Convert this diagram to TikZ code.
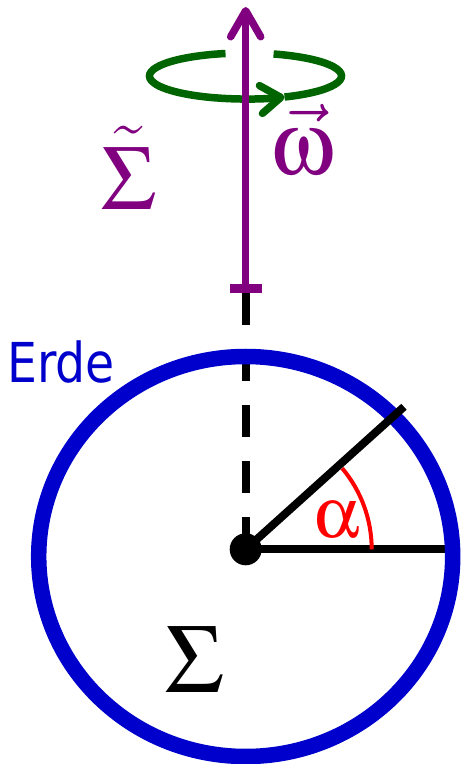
\RequirePackage{fix-cm}
\documentclass[tikz,border=0pt]{standalone}
\usepackage{amsmath}
\usepackage[Symbol]{upgreek}
\usepackage{fontspec}
\usepackage{tikz}
\usetikzlibrary{arrows.meta, calc}

\newfontfamily\erdefont[FakeStretch=0.86]{DejaVu Sans}
\definecolor{ringblue}{RGB}{0,0,204}
\definecolor{axispurple}{RGB}{128,0,128}
\definecolor{spingreen}{RGB}{0,100,0}

\begin{document}
\begin{tikzpicture}[x=1pt, y=1pt]
  \useasboundingbox (0,0) rectangle (461,764);

  % Points: centre of the earth, ends of the rotation axis
  \coordinate (O) at (245.7, 214.7);
  \coordinate (Mid) at (245.7, 207.5);
  \coordinate (AxBot) at (245.7, 471);
  \coordinate (AxTop) at (245.7, 757);
  \coordinate (Spin) at (245.5, 688);
  \coordinate (Hor) at (453, 214.7);
  \coordinate (Slant) at ($(O)+(42:213)$);

  % Dashed part of the axis inside the earth
  \draw[line width=8, dash pattern=on 32 off 24] (AxBot) -- (O);

  % Reference line and tilted line
  \draw[line width=8] (O) -- (Hor);

  % The earth
  \draw[ringblue, line width=15.5] (Mid) ellipse [x radius=207, y radius=200];
  \node[ringblue, anchor=base west, inner sep=0, font=\erdefont\fontsize{55}{55}\selectfont] (erde) at (7, 381) {Erde};

  \draw[line width=8] (O) -- (Slant);

  % Angle alpha
  \draw[red, line width=4] ($(O)+(0:126)$) arc[start angle=0, end angle=40, radius=126];
  \node[red, anchor=base, inner sep=0, font=\fontsize{72}{72}\selectfont] (alpha) at (337, 226) {$\upalpha$};

  % Centre
  \fill (O) circle (16);
  \node[anchor=base, inner sep=0, font=\fontsize{98}{98}\selectfont] (sigma) at (194.7, 71) {$\Upsigma$};

  % Rotation (green loop with a gap at the top)
  \draw[spingreen, line width=7.5, -{Straight Barb[length=20, width=28, round]}]
    ($(Spin)+(102:96 and 23)$) arc[start angle=102, end angle=294, x radius=96, y radius=23];
  \draw[spingreen, line width=7.5]
    ($(Spin)+(294:96 and 23)$) arc[start angle=294, end angle=433, x radius=96, y radius=23];

  % Rotation axis
  \draw[axispurple, line width=7.5, {Bar[width=32, line width=9]}-{Straight Barb[length=26, width=30, round]}] (AxBot) -- (AxTop);
  \node[axispurple, anchor=base, inner sep=0, font=\fontsize{92}{92}\selectfont] (sigmaT) at (128.3, 554) {$\tilde{\Upsigma}$};
  \node[axispurple, anchor=base, inner sep=0, font=\fontsize{90}{90}\selectfont] (omega) at (302, 589) {$\vec{\upomega}$};

\end{tikzpicture}
\end{document}
